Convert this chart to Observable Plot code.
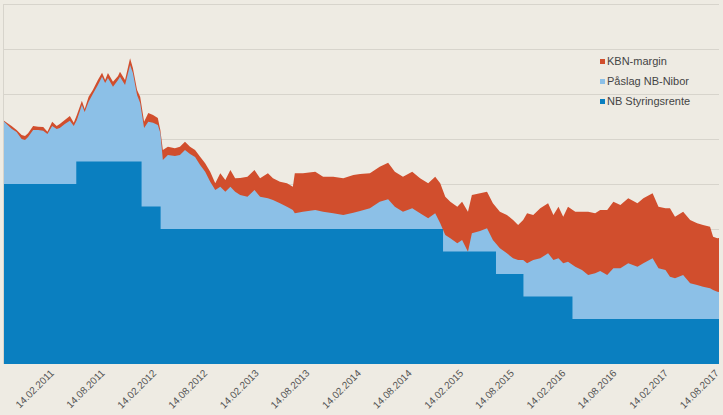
<!DOCTYPE html>
<html>
<head>
<meta charset="utf-8">
<script src="https://cdn.jsdelivr.net/npm/d3@7"></script>
<script src="https://cdn.jsdelivr.net/npm/@observablehq/plot@0.6"></script>
<style>
  html, body { margin: 0; padding: 0; background: #EEEBE3; }
  #wrap { position: relative; width: 723px; height: 415px; font-family: "Liberation Sans", Arial, sans-serif; }
  .legend { position: absolute; left: 600px; top: 51px; font-size: 11px; color: #444; }
  .legend .row { height: 20px; display: flex; align-items: center; white-space: nowrap; }
  .legend .sw { width: 5px; height: 5px; margin-right: 2px; display: inline-block; }
</style>
</head>
<body>
<div id="wrap"></div>
<script>
// Series names
const seriesNames = ["KBN-margin", "Påslag NB-Nibor", "NB Styringsrente"];
const seriesColors = ["#D14E2D", "#8CC0E7", "#0A7FC0"];

// Sample dates
const dates = [
  "2010-08-27","2010-09-23","2010-10-11","2010-10-29","2010-11-10","2010-11-21","2010-12-09","2010-12-27",
  "2011-01-14","2011-01-29","2011-02-15","2011-03-03","2011-03-14","2011-04-01","2011-04-19","2011-05-03",
  "2011-05-14","2011-06-01","2011-06-11","2011-06-25","2011-07-10","2011-07-28","2011-08-12","2011-08-23",
  "2011-09-02","2011-09-20","2011-10-08","2011-10-15","2011-11-02","2011-11-20","2011-11-30","2011-12-15",
  "2011-12-26","2012-01-09","2012-01-24","2012-02-10","2012-02-27","2012-03-07","2012-03-16","2012-04-03",
  "2012-04-28","2012-05-16","2012-06-03","2012-06-21","2012-07-09","2012-07-27","2012-08-14","2012-09-01",
  "2012-09-19","2012-10-07","2012-10-25","2012-11-12","2012-11-29","2012-12-17","2013-01-12","2013-02-06",
  "2013-02-26","2013-03-26","2013-04-13","2013-05-08","2013-06-02","2013-06-23","2013-06-30","2013-07-29",
  "2013-09-11","2013-10-09","2013-11-14","2013-12-20","2014-01-25","2014-02-18","2014-03-25","2014-04-29",
  "2014-05-29","2014-06-22","2014-07-21","2014-08-23","2014-09-20","2014-10-19","2014-11-13","2014-12-01",
  "2014-12-19","2015-01-06","2015-01-31","2015-02-17","2015-03-10","2015-03-24","2015-04-22","2015-05-17",
  "2015-06-07","2015-07-02","2015-07-27","2015-08-18","2015-09-05","2015-09-23","2015-10-07","2015-10-29",
  "2015-11-23","2015-12-21","2016-01-09","2016-01-27","2016-02-13","2016-03-01","2016-03-27","2016-04-20",
  "2016-05-12","2016-06-06","2016-06-24","2016-07-19","2016-08-10","2016-09-04","2016-10-02","2016-11-04",
  "2016-11-25","2016-12-28","2017-01-18","2017-02-12","2017-02-28","2017-03-18","2017-04-16","2017-05-11",
  "2017-06-05","2017-06-26","2017-07-21","2017-08-01","2017-08-16","2017-08-22"
];

// Top of "Påslag NB-Nibor" (NB Styringsrente + påslag = 3M Nibor), percent
const nibor = [
  2.694,2.614,2.578,2.500,2.489,2.522,2.600,2.600,
  2.592,2.556,2.644,2.611,2.622,2.667,2.703,2.644,
  2.711,2.878,2.800,2.914,3.000,3.100,3.192,3.122,
  3.178,3.081,3.156,3.192,3.100,3.322,3.233,2.989,
  2.900,2.622,2.692,2.681,2.656,2.567,2.267,2.322,
  2.311,2.322,2.378,2.333,2.300,2.211,2.137,2.026,
  1.933,1.970,1.914,1.970,1.914,1.878,1.859,1.933,
  1.859,1.841,1.822,1.786,1.748,1.711,1.674,1.692,
  1.711,1.692,1.674,1.656,1.681,1.700,1.730,1.803,
  1.830,1.748,1.692,1.730,1.674,1.619,1.674,1.563,
  1.433,1.397,1.341,1.378,1.248,1.452,1.478,1.508,
  1.378,1.286,1.230,1.174,1.156,1.156,1.119,1.156,
  1.174,1.230,1.156,1.174,1.119,1.137,1.081,1.044,
  0.989,1.008,1.033,0.989,1.063,1.063,1.119,1.081,
  1.119,1.174,1.063,1.044,0.970,0.952,0.989,0.897,
  0.878,0.859,0.841,0.822,0.803,0.800
];

// Top of "KBN-margin" (3M Nibor + KBN-margin), percent
const kbnTotal = [
  2.703,2.644,2.600,2.544,2.533,2.563,2.644,2.637,
  2.633,2.581,2.692,2.644,2.667,2.711,2.756,2.681,
  2.767,2.926,2.833,2.970,3.044,3.156,3.237,3.156,
  3.233,3.137,3.200,3.248,3.156,3.397,3.289,3.044,
  2.970,2.692,2.789,2.767,2.733,2.600,2.378,2.414,
  2.397,2.414,2.470,2.414,2.378,2.303,2.230,2.137,
  2.008,2.119,2.044,2.156,2.063,2.067,2.081,2.156,
  2.063,2.119,2.063,2.026,2.008,1.970,2.119,2.119,
  2.137,2.081,2.081,2.063,2.100,2.111,2.119,2.192,
  2.237,2.137,2.081,2.137,2.063,2.008,2.081,2.008,
  1.859,1.803,1.748,1.803,1.692,1.878,1.897,1.914,
  1.786,1.692,1.656,1.600,1.544,1.600,1.674,1.656,
  1.730,1.786,1.656,1.748,1.637,1.748,1.692,1.692,
  1.692,1.674,1.711,1.711,1.803,1.767,1.841,1.786,
  1.841,1.897,1.748,1.730,1.730,1.637,1.692,1.600,
  1.563,1.544,1.526,1.414,1.397,1.400
];

// NB Styringsrente (policy rate) change dates and levels, percent
const rateDates = ["2010-08-27","2011-05-12","2011-12-31","2012-03-08","2014-12-11","2015-06-18","2015-09-24","2016-03-17","2017-08-22"];
const rateValues = [2.0, 2.25, 1.75, 1.5, 1.25, 1.0, 0.75, 0.5, 0.5];

// Axis ticks
const xTicks = ["2011-02-14","2011-08-14","2012-02-14","2012-08-14","2013-02-14","2013-08-14","2014-02-14",
                "2014-08-14","2015-02-14","2015-08-14","2016-02-14","2016-08-14","2017-02-14","2017-08-14"];
const yGrid = [0.5, 1.0, 1.5, 2.0, 2.5, 3.0, 3.5, 4.0];

const parse = d3.utcParse("%Y-%m-%d");
const rows = dates.map((d, i) => ({date: parse(d), nibor: nibor[i], total: kbnTotal[i]}));
const rateRows = rateDates.map((d, i) => ({date: parse(d), rate: rateValues[i]}));
const tickDates = xTicks.map(parse);

const chart = Plot.plot({
  width: 723,
  height: 415,
  marginLeft: 4,
  marginRight: 4,
  marginTop: 4,
  marginBottom: 51,
  style: {background: "transparent", fontFamily: "'Liberation Sans', Arial, sans-serif"},
  x: {type: "utc", domain: [parse(dates[0]), parse(dates[dates.length - 1])]},
  y: {domain: [0, 4], axis: null},
  marks: [
    Plot.ruleY(yGrid, {stroke: "#D7D4CC", strokeWidth: 1}),
    Plot.ruleX([parse(dates[0])], {stroke: "#D7D4CC", dx: -1}),
    Plot.areaY(rows, {x: "date", y: "total", fill: seriesColors[0]}),
    Plot.areaY(rows, {x: "date", y: "nibor", fill: seriesColors[1]}),
    Plot.areaY(rateRows, {x: "date", y: "rate", fill: seriesColors[2], curve: "step-after"}),
    Plot.axisX(tickDates, {
      tickFormat: d3.utcFormat("%d.%m.%Y"),
      tickRotate: -45,
      tickSize: 0,
      tickPadding: 7,
      fontSize: 10,
      fill: "#555",
      label: null
    })
  ]
});

const wrap = document.getElementById("wrap");
wrap.appendChild(chart);

const legend = document.createElement("div");
legend.className = "legend";
seriesNames.forEach((name, i) => {
  const row = document.createElement("div");
  row.className = "row";
  const sw = document.createElement("span");
  sw.className = "sw";
  sw.style.background = seriesColors[i];
  const label = document.createElement("span");
  label.textContent = name;
  row.appendChild(sw);
  row.appendChild(label);
  legend.appendChild(row);
});
wrap.appendChild(legend);
</script>
</body>
</html>
